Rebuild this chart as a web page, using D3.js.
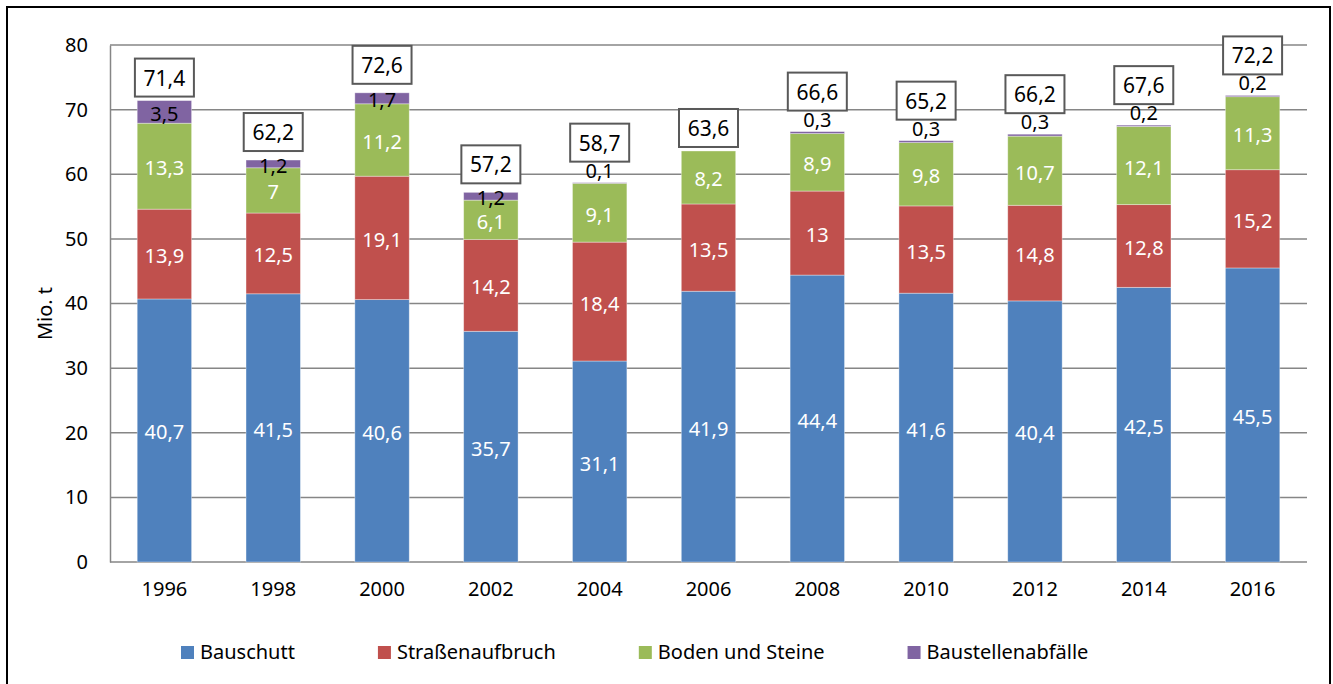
<!DOCTYPE html>
<meta charset="utf-8">
<head>
 <title>Bauabfälle</title>
</head>

<style>
body { margin: 0; background: #fff; }
text { font-family: "Noto Sans", "Open Sans", sans-serif; }
</style>

<body>
 <div id="content"></div>

 <script src="https://d3js.org/d3.v7.min.js"></script>
 <script>
var width = 1333, height = 684

// Data
var years = ["1996", "1998", "2000", "2002", "2004", "2006", "2008", "2010", "2012", "2014", "2016"]
var bauschutt = [40.7, 41.5, 40.6, 35.7, 31.1, 41.9, 44.4, 41.6, 40.4, 42.5, 45.5]
var strassen = [13.9, 12.5, 19.1, 14.2, 18.4, 13.5, 13, 13.5, 14.8, 12.8, 15.2]
var boden = [13.3, 7, 11.2, 6.1, 9.1, 8.2, 8.9, 9.8, 10.7, 12.1, 11.3]
var baustellen = [3.5, 1.2, 1.7, 1.2, 0.1, 0, 0.3, 0.3, 0.3, 0.2, 0.2]
var totals = [71.4, 62.2, 72.6, 57.2, 58.7, 63.6, 66.6, 65.2, 66.2, 67.6, 72.2]
var seriesNames = ["Bauschutt", "Straßenaufbruch", "Boden und Steine", "Baustellenabfälle"]
var colors = ["#4F81BD", "#C0504D", "#9BBB59", "#8064A2"]
var yTicks = [0, 10, 20, 30, 40, 50, 60, 70, 80]

var fmt = function(v) { return String(v).replace(".", ",") }

var rows = years.map(function(y, i) {
  return { year: y, s0: bauschutt[i], s1: strassen[i], s2: boden[i], s3: baustellen[i], total: totals[i] }
})

var svg = d3.select("#content").append("svg")
  .attr("width", width).attr("height", height)

// outer frame
svg.append("rect")
  .attr("x", 7).attr("y", 7).attr("width", 1323).attr("height", 700)
  .attr("fill", "none").attr("stroke", "#000").attr("stroke-width", 2)

var margin = { left: 110, right: 1307, top: 45, bottom: 562 }

var x = d3.scaleBand().domain(years).range([margin.left, margin.right]).paddingInner(0.5).paddingOuter(0.25)
var y = d3.scaleLinear().domain([0, 80]).range([margin.bottom, margin.top])

// gridlines
svg.append("g").selectAll("line").data(yTicks).enter().append("line")
  .attr("x1", margin.left).attr("x2", margin.right)
  .attr("y1", function(d) { return y(d) }).attr("y2", function(d) { return y(d) })
  .attr("stroke", "#868686").attr("stroke-width", 1.5)

// y axis
var yAxis = svg.append("g")
  .attr("transform", "translate(" + margin.left + ",0)")
  .call(d3.axisLeft(y).tickValues(yTicks).tickSize(0).tickPadding(22))
yAxis.select(".domain").attr("stroke", "#868686").attr("stroke-width", 1.5)
yAxis.selectAll("text").attr("font-size", 20).attr("fill", "#000")
  .style("font-family", '"Noto Sans", sans-serif')

// x axis labels
var xAxis = svg.append("g")
  .attr("transform", "translate(0," + margin.bottom + ")")
  .call(d3.axisBottom(x).tickSize(0).tickPadding(20))
xAxis.select(".domain").remove()
xAxis.selectAll("text").attr("font-size", 20).attr("fill", "#000")
  .style("font-family", '"Noto Sans", sans-serif')

// y title
svg.append("text")
  .attr("transform", "translate(52," + ((margin.top + margin.bottom) / 2 + 10) + ") rotate(-90)")
  .attr("text-anchor", "middle")
  .attr("font-size", 20)
  .text("Mio. t")

// stacked bars
var keys = ["s0", "s1", "s2", "s3"]
var stack = d3.stack().keys(keys)(rows)

var layers = svg.append("g").selectAll("g").data(stack).enter().append("g")
  .attr("fill", function(d, i) { return colors[i] })

layers.selectAll("rect").data(function(d) { return d }).enter().append("rect")
  .attr("x", function(d) { return x(d.data.year) })
  .attr("width", x.bandwidth())
  .attr("y", function(d) { return y(d[1]) })
  .attr("height", function(d) { return y(d[0]) - y(d[1]) })
  .attr("stroke", "rgba(255,255,255,0.45)").attr("stroke-width", 0.8)

// segment labels
stack.forEach(function(layer, li) {
  var key = keys[li]
  svg.append("g").selectAll("text").data(layer.filter(function(d) { return d.data[key] > 0 })).enter().append("text")
    .attr("x", function(d) { return x(d.data.year) + x.bandwidth() / 2 })
    .attr("y", function(d) {
      var h = y(d[0]) - y(d[1])
      if (h < 4) return y(d[1]) - 5
      return (y(d[0]) + y(d[1])) / 2 + 9
    })
    .attr("text-anchor", "middle")
    .attr("font-size", 20)
    .attr("fill", li == 3 ? "#000" : "#fff")
    .text(function(d) { return fmt(d.data[key]) })
})

// total boxes
var boxW = 59, boxH = 38
var totalG = svg.append("g").selectAll("g").data(rows).enter().append("g")
  .attr("transform", function(d) {
    var top = y(d.total)
    var ph = y(0) - y(d.s3)
    var gap = 4
    if (d.s3 > 0 && ph < 4) gap = 21
    else if (d.s3 > 0 && ph < 14) gap = 9
    var cx = x(d.year) + x.bandwidth() / 2
    return "translate(" + (cx - boxW / 2) + "," + (top - gap - boxH) + ")"
  })

totalG.append("rect")
  .attr("width", boxW).attr("height", boxH)
  .attr("fill", "#fff").attr("stroke", "#595959").attr("stroke-width", 2)

totalG.append("text")
  .attr("x", boxW / 2).attr("y", boxH / 2 + 8)
  .attr("text-anchor", "middle")
  .attr("font-size", 21)
  .text(function(d) { return fmt(d.total) })

// legend
var legend = svg.append("g").attr("transform", "translate(181,646)")
var lx = 0
seriesNames.forEach(function(name, i) {
  var item = legend.append("g").attr("transform", "translate(" + lx + ",0)")
  item.append("rect").attr("width", 13).attr("height", 13).attr("fill", colors[i])
  var t = item.append("text").attr("x", 19).attr("y", 13).attr("font-size", 20).text(name)
  lx += 19 + t.node().getComputedTextLength() + 83
})
 </script>
</body>
</html>
